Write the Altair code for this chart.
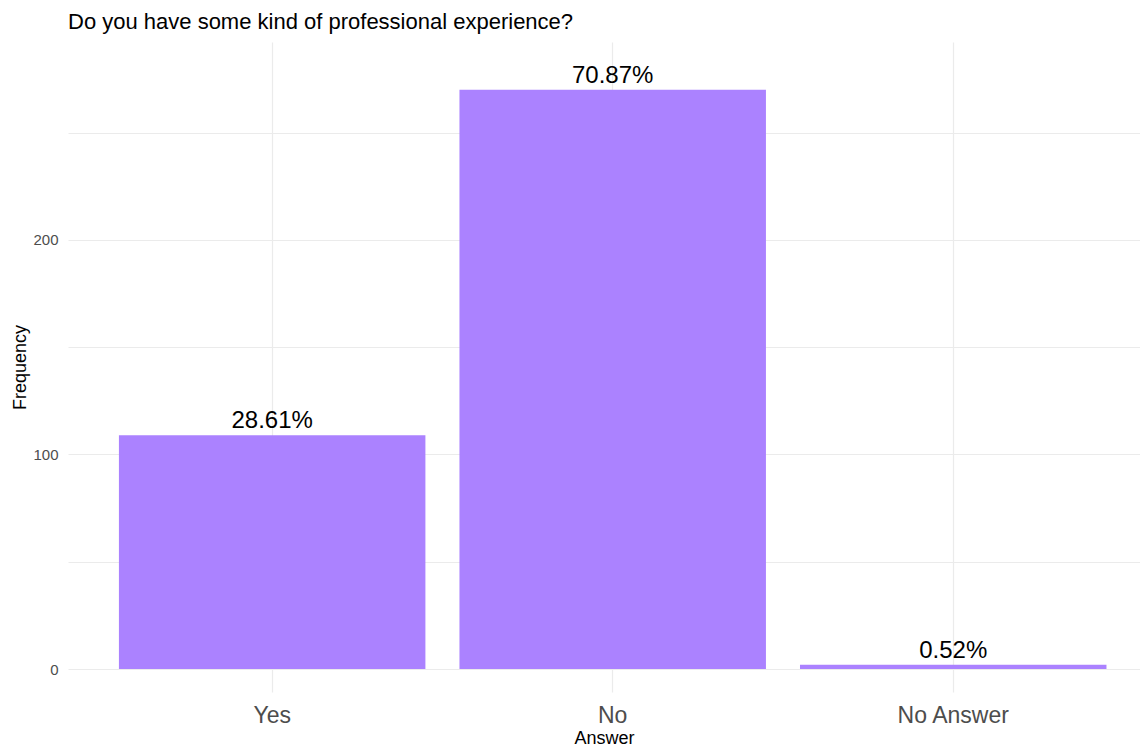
import altair as alt
import pandas as pd

answers = ["Yes", "No", "No Answer"]
counts = [109, 270, 2]
percent_labels = ["28.61%", "70.87%", "0.52%"]

df = pd.DataFrame({"Answer": answers, "Frequency": counts, "label": percent_labels})

FONT = "Liberation Sans"

x = alt.X(
    "Answer:N",
    sort=answers,
    title="Answer",
    scale=alt.Scale(paddingInner=0.1, paddingOuter=0.124, align=0.603),
    axis=alt.Axis(
        bandPosition=0.5, grid=True, gridColor="#ebebeb", gridWidth=1.2,
        ticks=False, domain=False, labelAngle=0, labelFontSize=23,
        labelColor="#4d4d4d", labelPadding=12, labelFont=FONT,
        titleFontSize=18, titleColor="black", titleFontWeight="normal",
        titlePadding=2, titleFont=FONT,
    ),
)

y = alt.Y(
    "Frequency:Q",
    title="Frequency",
    scale=alt.Scale(domain=[-10.72, 292.3], nice=False, zero=False),
    axis=alt.Axis(
        values=[0, 50, 100, 150, 200, 250],
        labelExpr="datum.value % 100 === 0 ? datum.label : ''",
        ticks=False, domain=False, gridColor="#ebebeb", gridWidth=1,
        labelFontSize=15, labelColor="#4d4d4d", labelPadding=10, labelFont=FONT,
        titleFontSize=18, titleColor="black", titleFontWeight="normal",
        titlePadding=3, titleFont=FONT,
    ),
)

base = alt.Chart(df)

bars = base.mark_bar(color="#AB82FF").encode(x=x, y=y, y2=alt.datum(0))

texts = base.mark_text(baseline="alphabetic", dy=-7, fontSize=24, color="black", font=FONT).encode(
    x=alt.X("Answer:N", sort=answers),
    y=alt.Y("Frequency:Q"),
    text="label:N",
)

chart = (
    alt.layer(bars, texts)
    .properties(
        width=1072,
        height=650,
        title=alt.TitleParams(
            "Do you have some kind of professional experience?",
            anchor="start", frame="group", fontSize=22, fontWeight="normal",
            color="black", font=FONT, offset=8,
        ),
        autosize=alt.AutoSizeParams(type="none"),
        padding={"left": 60, "top": 34, "right": 0, "bottom": 55},
    )
    .configure_view(stroke=None)
)

chart.save("out.html", embed_options={"renderer": "svg", "actions": False})
